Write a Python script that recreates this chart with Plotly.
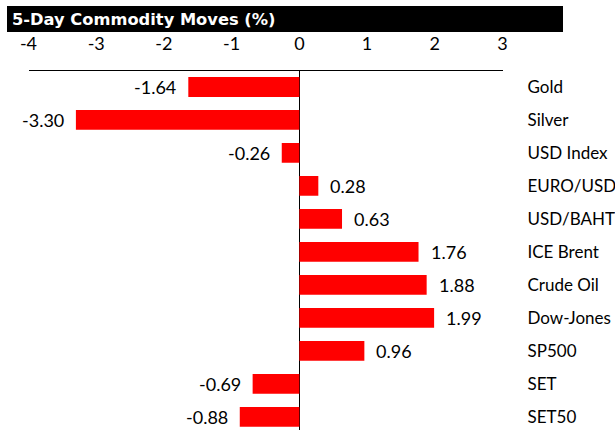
import plotly.graph_objects as go

W, H = 615, 430

categories = ["Gold", "Silver", "USD Index", "EURO/USD", "USD/BAHT", "ICE Brent",
              "Crude Oil", "Dow-Jones", "SP500", "SET", "SET50"]
values = [-1.64, -3.30, -0.26, 0.28, 0.63, 1.76, 1.88, 1.99, 0.96, -0.69, -0.88]
x_ticks = [-4, -3, -2, -1, 0, 1, 2, 3]
title_text = "5-Day Commodity Moves (%)"

FONT = "Lato, Carlito, Calibri, sans-serif"

fig = go.Figure()
fig.add_trace(go.Bar(
    x=values, y=categories, orientation="h",
    marker=dict(color="#ff0000", line=dict(width=0)),
    width=0.6, hoverinfo="skip",
))

annotations = []
for c, v in zip(categories, values):
    annotations.append(dict(
        x=v, y=c, xref="x", yref="y", text=f"{v:.2f}", showarrow=False,
        xanchor="left" if v >= 0 else "right",
        xshift=10 if v >= 0 else -10,
        font=dict(family=FONT, size=18, color="#000000"),
    ))
annotations.append(dict(
    x=10 / W, y=1 - 19 / H, xref="paper", yref="paper", text="<b>" + title_text + "</b>",
    showarrow=False, xanchor="left", yanchor="middle",
    font=dict(family="DejaVu Sans, Verdana, sans-serif", size=16.3, color="#ffffff"),
))

fig.update_layout(
    width=W, height=H,
    margin=dict(l=0, r=0, t=0, b=0),
    paper_bgcolor="white", plot_bgcolor="white",
    showlegend=False,
    annotations=annotations,
    shapes=[dict(type="rect", xref="paper", yref="paper",
                 x0=7 / W, x1=563 / W, y0=1 - 32 / H, y1=1 - 6 / H,
                 fillcolor="#000000", line=dict(width=0), layer="above")],
    xaxis=dict(
        domain=[28.5 / W, 502.5 / W], range=[-4, 3], side="top",
        tickvals=x_ticks, ticktext=[str(t) for t in x_ticks],
        showgrid=False, zeroline=True, zerolinecolor="#000000", zerolinewidth=1,
        showline=True, linecolor="#000000", linewidth=1, ticks="",
        ticklabelstandoff=12, automargin=False, fixedrange=True,
        tickfont=dict(family=FONT, size=18, color="#000000"),
    ),
    yaxis=dict(
        domain=[0, 1 - 70.5 / H], range=[10.4, -0.5], side="right",
        showgrid=False, zeroline=False, showline=False, ticks="",
        ticklabelstandoff=24, automargin=False, fixedrange=True,
        tickfont=dict(family=FONT, size=17, color="#000000"),
    ),
)

fig.write_html("out.html", config={"displayModeBar": False},
               post_script="document.body.style.margin='0';document.body.style.overflow='hidden';")
